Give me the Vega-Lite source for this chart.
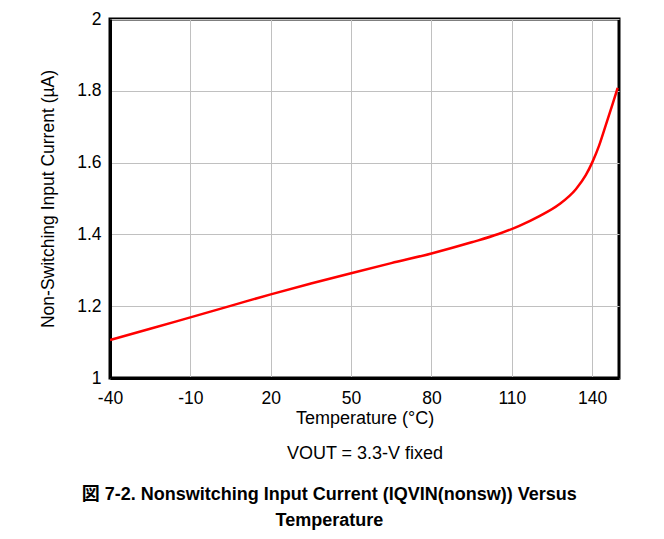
{
  "$schema": "https://vega.github.io/schema/vega-lite/v6.json",
  "width": 509,
  "height": 359,
  "autosize": {"type": "none"},
  "padding": {"left": 110, "top": 19, "right": 45, "bottom": 161},
  "background": "white",
  "data": {
    "values": [
      {"t": -40, "i": 1.106},
      {"t": -25, "i": 1.137},
      {"t": -10, "i": 1.169},
      {"t": 5, "i": 1.201},
      {"t": 20, "i": 1.233},
      {"t": 35, "i": 1.263},
      {"t": 50, "i": 1.292},
      {"t": 65, "i": 1.320},
      {"t": 80, "i": 1.347},
      {"t": 95, "i": 1.378},
      {"t": 105, "i": 1.401},
      {"t": 112.8, "i": 1.424},
      {"t": 120.3, "i": 1.451},
      {"t": 127.7, "i": 1.484},
      {"t": 133.9, "i": 1.526},
      {"t": 137.6, "i": 1.565},
      {"t": 140.1, "i": 1.602},
      {"t": 142.6, "i": 1.648},
      {"t": 145.1, "i": 1.705},
      {"t": 147.6, "i": 1.763},
      {"t": 149.5, "i": 1.808}
    ]
  },
  "title": {
    "text": ["図 7-2. Nonswitching Input Current (IQVIN(nonsw)) Versus", "Temperature"],
    "orient": "bottom",
    "anchor": "middle",
    "frame": "bounds",
    "offset": 23,
    "font": "Liberation Sans, Arial, Noto Sans CJK JP",
    "fontSize": 18,
    "fontWeight": "bold",
    "color": "black",
    "lineHeight": 26
  },
  "mark": {"type": "line", "color": "#ff0000", "strokeWidth": 2.5, "interpolate": "monotone", "clip": true},
  "encoding": {
    "x": {
      "field": "t",
      "type": "quantitative",
      "scale": {"domain": [-40, 150], "nice": false, "zero": false},
      "axis": {
        "values": [-40, -10, 20, 50, 80, 110, 140],
        "labelExpr": "datum.value + ''",
        "labelFlush": false,
        "labelPadding": 11,
        "title": ["Temperature (°C)", "VOUT = 3.3-V fixed"],
        "titleFontSize": 18,
        "titleLineHeight": 35,
        "titlePadding": 3
      }
    },
    "y": {
      "field": "i",
      "type": "quantitative",
      "scale": {"domain": [1, 2], "nice": false, "zero": false},
      "axis": {
        "values": [1, 1.2, 1.4, 1.6, 1.8, 2],
        "labelExpr": "datum.value + ''",
        "labelPadding": 9,
        "title": "Non-Switching Input Current (µA)",
        "titleFontSize": 17.5,
        "titlePadding": 19
      }
    }
  },
  "config": {
    "view": {"stroke": "black", "strokeWidth": 3},
    "axis": {
      "domain": true,
      "domainColor": "black",
      "domainWidth": 3,
      "ticks": false,
      "grid": true,
      "gridColor": "#c0c0c0",
      "gridWidth": 1,
      "labelFont": "Liberation Sans, Arial",
      "labelFontSize": 17.5,
      "labelColor": "black",
      "titleFont": "Liberation Sans, Arial",
      "titleFontWeight": "normal",
      "titleColor": "black"
    }
  }
}
